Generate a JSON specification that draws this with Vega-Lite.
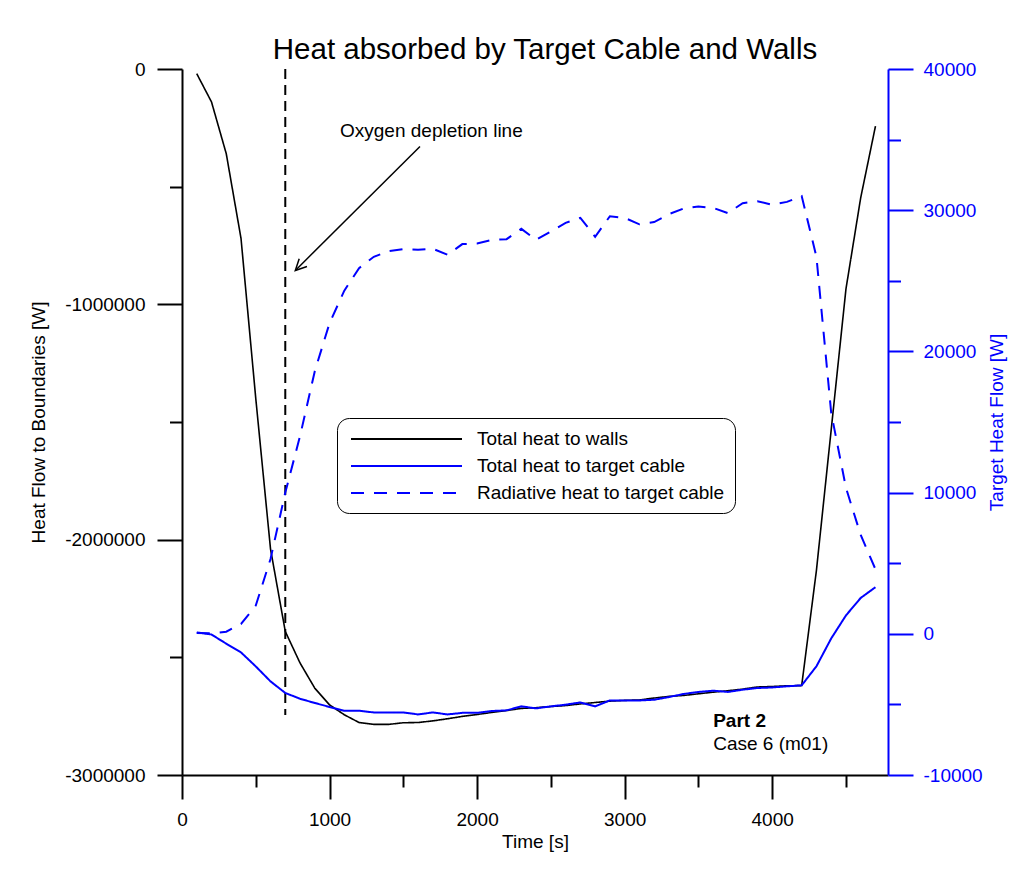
{
  "$schema": "https://vega.github.io/schema/vega-lite/v6.json",
  "width": 706,
  "height": 706,
  "autosize": {"type": "none"},
  "padding": {"left": 182, "top": 69, "right": 138, "bottom": 107},
  "background": "white",
  "title": {
    "text": "Heat absorbed by Target Cable and Walls",
    "fontSize": 29.5,
    "font": "Liberation Sans",
    "fontWeight": "normal",
    "color": "black",
    "anchor": "middle",
    "dx": 10,
    "dy": 30,
    "baseline": "alphabetic",
    "offset": 2
  },
  "config": {
    "view": {"stroke": null},
    "font": "Liberation Sans",
    "axis": {"grid": false, "labelFont": "Liberation Sans", "titleFont": "Liberation Sans"}
  },
  "datasets": {
    "flows": [
      {"time": 100, "series": "Total heat to walls", "flow": -20000},
      {"time": 200, "series": "Total heat to walls", "flow": -140000},
      {"time": 300, "series": "Total heat to walls", "flow": -360000},
      {"time": 400, "series": "Total heat to walls", "flow": -720000},
      {"time": 500, "series": "Total heat to walls", "flow": -1400000},
      {"time": 600, "series": "Total heat to walls", "flow": -2040000},
      {"time": 700, "series": "Total heat to walls", "flow": -2390000},
      {"time": 800, "series": "Total heat to walls", "flow": -2524000},
      {"time": 900, "series": "Total heat to walls", "flow": -2631000},
      {"time": 1000, "series": "Total heat to walls", "flow": -2702000},
      {"time": 1100, "series": "Total heat to walls", "flow": -2744000},
      {"time": 1200, "series": "Total heat to walls", "flow": -2777000},
      {"time": 1300, "series": "Total heat to walls", "flow": -2785000},
      {"time": 1400, "series": "Total heat to walls", "flow": -2785000},
      {"time": 1500, "series": "Total heat to walls", "flow": -2778000},
      {"time": 1600, "series": "Total heat to walls", "flow": -2777000},
      {"time": 1700, "series": "Total heat to walls", "flow": -2770000},
      {"time": 1800, "series": "Total heat to walls", "flow": -2761000},
      {"time": 1900, "series": "Total heat to walls", "flow": -2751000},
      {"time": 2000, "series": "Total heat to walls", "flow": -2743000},
      {"time": 2100, "series": "Total heat to walls", "flow": -2734000},
      {"time": 2200, "series": "Total heat to walls", "flow": -2726000},
      {"time": 2300, "series": "Total heat to walls", "flow": -2717000},
      {"time": 2400, "series": "Total heat to walls", "flow": -2714000},
      {"time": 2500, "series": "Total heat to walls", "flow": -2709000},
      {"time": 2600, "series": "Total heat to walls", "flow": -2705000},
      {"time": 2700, "series": "Total heat to walls", "flow": -2698000},
      {"time": 2800, "series": "Total heat to walls", "flow": -2692000},
      {"time": 2900, "series": "Total heat to walls", "flow": -2686000},
      {"time": 3000, "series": "Total heat to walls", "flow": -2683000},
      {"time": 3100, "series": "Total heat to walls", "flow": -2681000},
      {"time": 3200, "series": "Total heat to walls", "flow": -2673000},
      {"time": 3300, "series": "Total heat to walls", "flow": -2666000},
      {"time": 3400, "series": "Total heat to walls", "flow": -2662000},
      {"time": 3500, "series": "Total heat to walls", "flow": -2655000},
      {"time": 3600, "series": "Total heat to walls", "flow": -2648000},
      {"time": 3700, "series": "Total heat to walls", "flow": -2642000},
      {"time": 3800, "series": "Total heat to walls", "flow": -2635000},
      {"time": 3900, "series": "Total heat to walls", "flow": -2626000},
      {"time": 4000, "series": "Total heat to walls", "flow": -2624000},
      {"time": 4100, "series": "Total heat to walls", "flow": -2621000},
      {"time": 4200, "series": "Total heat to walls", "flow": -2620000},
      {"time": 4300, "series": "Total heat to walls", "flow": -2130000},
      {"time": 4400, "series": "Total heat to walls", "flow": -1533000},
      {"time": 4500, "series": "Total heat to walls", "flow": -935000},
      {"time": 4600, "series": "Total heat to walls", "flow": -547000},
      {"time": 4700, "series": "Total heat to walls", "flow": -243000},

      {"time": 100, "series": "Total heat to target cable", "flow": 100},
      {"time": 200, "series": "Total heat to target cable", "flow": -50},
      {"time": 300, "series": "Total heat to target cable", "flow": -700},
      {"time": 400, "series": "Total heat to target cable", "flow": -1320},
      {"time": 500, "series": "Total heat to target cable", "flow": -2310},
      {"time": 600, "series": "Total heat to target cable", "flow": -3370},
      {"time": 700, "series": "Total heat to target cable", "flow": -4190},
      {"time": 800, "series": "Total heat to target cable", "flow": -4600},
      {"time": 900, "series": "Total heat to target cable", "flow": -4900},
      {"time": 1000, "series": "Total heat to target cable", "flow": -5180},
      {"time": 1100, "series": "Total heat to target cable", "flow": -5450},
      {"time": 1200, "series": "Total heat to target cable", "flow": -5450},
      {"time": 1300, "series": "Total heat to target cable", "flow": -5570},
      {"time": 1400, "series": "Total heat to target cable", "flow": -5570},
      {"time": 1500, "series": "Total heat to target cable", "flow": -5570},
      {"time": 1600, "series": "Total heat to target cable", "flow": -5710},
      {"time": 1700, "series": "Total heat to target cable", "flow": -5570},
      {"time": 1800, "series": "Total heat to target cable", "flow": -5710},
      {"time": 1900, "series": "Total heat to target cable", "flow": -5600},
      {"time": 2000, "series": "Total heat to target cable", "flow": -5600},
      {"time": 2100, "series": "Total heat to target cable", "flow": -5470},
      {"time": 2200, "series": "Total heat to target cable", "flow": -5420},
      {"time": 2300, "series": "Total heat to target cable", "flow": -5140},
      {"time": 2400, "series": "Total heat to target cable", "flow": -5280},
      {"time": 2500, "series": "Total heat to target cable", "flow": -5140},
      {"time": 2600, "series": "Total heat to target cable", "flow": -5020},
      {"time": 2700, "series": "Total heat to target cable", "flow": -4860},
      {"time": 2800, "series": "Total heat to target cable", "flow": -5140},
      {"time": 2900, "series": "Total heat to target cable", "flow": -4720},
      {"time": 3000, "series": "Total heat to target cable", "flow": -4720},
      {"time": 3100, "series": "Total heat to target cable", "flow": -4720},
      {"time": 3200, "series": "Total heat to target cable", "flow": -4670},
      {"time": 3300, "series": "Total heat to target cable", "flow": -4480},
      {"time": 3400, "series": "Total heat to target cable", "flow": -4260},
      {"time": 3500, "series": "Total heat to target cable", "flow": -4120},
      {"time": 3600, "series": "Total heat to target cable", "flow": -4030},
      {"time": 3700, "series": "Total heat to target cable", "flow": -4120},
      {"time": 3800, "series": "Total heat to target cable", "flow": -3960},
      {"time": 3900, "series": "Total heat to target cable", "flow": -3840},
      {"time": 4000, "series": "Total heat to target cable", "flow": -3800},
      {"time": 4100, "series": "Total heat to target cable", "flow": -3720},
      {"time": 4200, "series": "Total heat to target cable", "flow": -3650},
      {"time": 4300, "series": "Total heat to target cable", "flow": -2300},
      {"time": 4400, "series": "Total heat to target cable", "flow": -330},
      {"time": 4500, "series": "Total heat to target cable", "flow": 1300},
      {"time": 4600, "series": "Total heat to target cable", "flow": 2540},
      {"time": 4700, "series": "Total heat to target cable", "flow": 3300},

      {"time": 100, "series": "Radiative heat to target cable", "flow": 50},
      {"time": 200, "series": "Radiative heat to target cable", "flow": 30},
      {"time": 300, "series": "Radiative heat to target cable", "flow": 150},
      {"time": 400, "series": "Radiative heat to target cable", "flow": 700},
      {"time": 500, "series": "Radiative heat to target cable", "flow": 2000},
      {"time": 600, "series": "Radiative heat to target cable", "flow": 5300},
      {"time": 700, "series": "Radiative heat to target cable", "flow": 10000},
      {"time": 800, "series": "Radiative heat to target cable", "flow": 14000},
      {"time": 900, "series": "Radiative heat to target cable", "flow": 18600},
      {"time": 1000, "series": "Radiative heat to target cable", "flow": 22000},
      {"time": 1100, "series": "Radiative heat to target cable", "flow": 24300},
      {"time": 1200, "series": "Radiative heat to target cable", "flow": 25900},
      {"time": 1300, "series": "Radiative heat to target cable", "flow": 26700},
      {"time": 1400, "series": "Radiative heat to target cable", "flow": 27100},
      {"time": 1500, "series": "Radiative heat to target cable", "flow": 27250},
      {"time": 1600, "series": "Radiative heat to target cable", "flow": 27200},
      {"time": 1700, "series": "Radiative heat to target cable", "flow": 27270},
      {"time": 1800, "series": "Radiative heat to target cable", "flow": 26840},
      {"time": 1900, "series": "Radiative heat to target cable", "flow": 27600},
      {"time": 2000, "series": "Radiative heat to target cable", "flow": 27640},
      {"time": 2100, "series": "Radiative heat to target cable", "flow": 27900},
      {"time": 2200, "series": "Radiative heat to target cable", "flow": 27950},
      {"time": 2300, "series": "Radiative heat to target cable", "flow": 28680},
      {"time": 2400, "series": "Radiative heat to target cable", "flow": 27900},
      {"time": 2500, "series": "Radiative heat to target cable", "flow": 28500},
      {"time": 2600, "series": "Radiative heat to target cable", "flow": 29100},
      {"time": 2700, "series": "Radiative heat to target cable", "flow": 29460},
      {"time": 2800, "series": "Radiative heat to target cable", "flow": 28120},
      {"time": 2900, "series": "Radiative heat to target cable", "flow": 29570},
      {"time": 3000, "series": "Radiative heat to target cable", "flow": 29460},
      {"time": 3100, "series": "Radiative heat to target cable", "flow": 29000},
      {"time": 3200, "series": "Radiative heat to target cable", "flow": 29160},
      {"time": 3300, "series": "Radiative heat to target cable", "flow": 29720},
      {"time": 3400, "series": "Radiative heat to target cable", "flow": 30120},
      {"time": 3500, "series": "Radiative heat to target cable", "flow": 30260},
      {"time": 3600, "series": "Radiative heat to target cable", "flow": 30170},
      {"time": 3700, "series": "Radiative heat to target cable", "flow": 29790},
      {"time": 3800, "series": "Radiative heat to target cable", "flow": 30500},
      {"time": 3900, "series": "Radiative heat to target cable", "flow": 30640},
      {"time": 4000, "series": "Radiative heat to target cable", "flow": 30380},
      {"time": 4100, "series": "Radiative heat to target cable", "flow": 30590},
      {"time": 4200, "series": "Radiative heat to target cable", "flow": 31000},
      {"time": 4300, "series": "Radiative heat to target cable", "flow": 26700},
      {"time": 4400, "series": "Radiative heat to target cable", "flow": 15650},
      {"time": 4500, "series": "Radiative heat to target cable", "flow": 10340},
      {"time": 4600, "series": "Radiative heat to target cable", "flow": 7000},
      {"time": 4700, "series": "Radiative heat to target cable", "flow": 4570}
    ]
  },
  "layer": [
    {
      "layer": [
        {
          "data": {"name": "flows"},
          "transform": [{"filter": "datum.series === 'Total heat to walls'"}],
          "mark": {"type": "line", "strokeWidth": 1.6},
          "encoding": {
            "x": {
              "field": "time", "type": "quantitative",
              "scale": {"domain": [0, 4785], "nice": false, "zero": false},
              "axis": {
                "title": "Time [s]",
                "values": [0, 500, 1000, 1500, 2000, 2500, 3000, 3500, 4000, 4500],
                "labelExpr": "datum.value % 1000 === 0 ? '' + datum.value : ''",
                "tickSize": {"condition": {"test": "datum.value % 1000 === 0", "value": 24}, "value": 12},
                "tickWidth": 2, "tickColor": "black",
                "domainWidth": 2, "domainColor": "black",
                "labelColor": "black", "labelFontSize": 19, "labelPadding": 11,
                "labelFlush": false, "labelOverlap": false,
                "titleColor": "black", "titleFontSize": 19, "titleFontWeight": "normal", "titlePadding": 3
              }
            },
            "y": {
              "field": "flow", "type": "quantitative",
              "scale": {"domain": [-3000000, 0], "nice": false, "zero": false},
              "axis": {
                "orient": "left",
                "title": "Heat Flow to Boundaries [W]",
                "values": [-3000000, -2500000, -2000000, -1500000, -1000000, -500000, 0],
                "labelExpr": "datum.value % 1000000 === 0 ? '' + datum.value : ''",
                "tickSize": {"condition": {"test": "datum.value % 1000000 === 0", "value": 25}, "value": 12.5},
                "tickWidth": 2, "tickColor": "black",
                "domainWidth": 2, "domainColor": "black",
                "labelColor": "black", "labelFontSize": 19, "labelPadding": 12,
                "labelFlush": false, "labelOverlap": false,
                "titleColor": "black", "titleFontSize": 19, "titleFontWeight": "normal", "titlePadding": 16
              }
            },
            "color": {
              "field": "series", "type": "nominal",
              "scale": {"domain": ["Total heat to walls", "Total heat to target cable", "Radiative heat to target cable"], "range": ["#000000", "#0000ff", "#0000ff"]},
              "legend": {
                "title": null, "orient": "none", "legendX": 155, "legendY": 349,
                "strokeColor": "black", "cornerRadius": 12, "padding": 10, "fillColor": "white",
                "labelFontSize": 19, "labelFont": "Liberation Sans", "labelColor": "black", "labelLimit": 400,
                "symbolType": "M-0.7,0H10.4", "symbolSize": 400, "symbolStrokeWidth": 2,
                "labelOffset": 108, "rowPadding": 6
              }
            },
            "strokeDash": {
              "field": "series", "type": "nominal",
              "scale": {"domain": ["Total heat to walls", "Total heat to target cable", "Radiative heat to target cable"], "range": [[1, 0], [1, 0], [13, 10]]},
              "legend": {
                "title": null, "orient": "none", "legendX": 155, "legendY": 349,
                "strokeColor": "black", "cornerRadius": 12, "padding": 10, "fillColor": "white",
                "labelFontSize": 19, "labelFont": "Liberation Sans", "labelColor": "black", "labelLimit": 400,
                "symbolType": "M-0.7,0H10.4", "symbolSize": 400, "symbolStrokeWidth": 2,
                "labelOffset": 108, "rowPadding": 6
              }
            }
          }
        },
        {
          "data": {"values": [{"time": 700, "top": 0, "bottom": -2745000}]},
          "mark": {"type": "rule", "color": "black", "strokeWidth": 2, "strokeDash": [10, 6]},
          "encoding": {
            "x": {"field": "time", "type": "quantitative", "scale": {"domain": [0, 4785], "nice": false, "zero": false}},
            "y": {"field": "top", "type": "quantitative", "scale": {"domain": [-3000000, 0], "nice": false, "zero": false}},
            "y2": {"field": "bottom"}
          }
        },
        {
          "data": {"values": [{"fromTime": 1613, "fromFlow": -329000, "toTime": 768, "toFlow": -856000}]},
          "mark": {"type": "rule", "color": "black", "strokeWidth": 1.5},
          "encoding": {
            "x": {"field": "fromTime", "type": "quantitative", "scale": {"domain": [0, 4785], "nice": false, "zero": false}},
            "y": {"field": "fromFlow", "type": "quantitative", "scale": {"domain": [-3000000, 0], "nice": false, "zero": false}},
            "x2": {"field": "toTime"},
            "y2": {"field": "toFlow"}
          }
        },
        {
          "data": {"values": [{"toTime": 768, "toFlow": -856000}]},
          "mark": {"type": "point", "shape": "M-1,-0.5L0,0L-1,0.5", "size": 484, "angle": 135, "filled": false, "stroke": "black", "strokeWidth": 1.5, "opacity": 1},
          "encoding": {
            "x": {"field": "toTime", "type": "quantitative", "scale": {"domain": [0, 4785], "nice": false, "zero": false}},
            "y": {"field": "toFlow", "type": "quantitative", "scale": {"domain": [-3000000, 0], "nice": false, "zero": false}}
          }
        },
        {
          "data": {"values": [
            {"time": 1071, "flow": -288000, "note": "Oxygen depletion line"},
            {"time": 3600, "flow": -2895000, "note": "Case 6 (m01)"}
          ]},
          "mark": {"type": "text", "align": "left", "baseline": "alphabetic", "fontSize": 19, "font": "Liberation Sans", "color": "black"},
          "encoding": {
            "x": {"field": "time", "type": "quantitative", "scale": {"domain": [0, 4785], "nice": false, "zero": false}},
            "y": {"field": "flow", "type": "quantitative", "scale": {"domain": [-3000000, 0], "nice": false, "zero": false}},
            "text": {"field": "note"}
          }
        },
        {
          "data": {"values": [{"time": 3600, "flow": -2796000, "note": "Part 2"}]},
          "mark": {"type": "text", "align": "left", "baseline": "alphabetic", "fontSize": 19, "fontWeight": "bold", "font": "Liberation Sans", "color": "black"},
          "encoding": {
            "x": {"field": "time", "type": "quantitative", "scale": {"domain": [0, 4785], "nice": false, "zero": false}},
            "y": {"field": "flow", "type": "quantitative", "scale": {"domain": [-3000000, 0], "nice": false, "zero": false}},
            "text": {"field": "note"}
          }
        }
      ]
    },
    {
      "layer": [
        {
          "data": {"name": "flows"},
          "transform": [{"filter": "datum.series !== 'Total heat to walls'"}],
          "mark": {"type": "line", "strokeWidth": 2},
          "encoding": {
            "x": {"field": "time", "type": "quantitative", "scale": {"domain": [0, 4785], "nice": false, "zero": false}},
            "y": {
              "field": "flow", "type": "quantitative",
              "scale": {"domain": [-10000, 40000], "nice": false, "zero": false},
              "axis": {
                "orient": "right",
                "title": "Target Heat Flow [W]",
                "values": [-10000, -5000, 0, 5000, 10000, 15000, 20000, 25000, 30000, 35000, 40000],
                "labelExpr": "datum.value % 10000 === 0 ? '' + datum.value : ''",
                "tickSize": {"condition": {"test": "datum.value % 10000 === 0", "value": 25}, "value": 12.5},
                "tickWidth": 2, "tickColor": "#0000ff",
                "domainWidth": 2, "domainColor": "#0000ff",
                "labelColor": "#0000ff", "labelFontSize": 19, "labelPadding": 10,
                "labelFlush": false, "labelOverlap": false,
                "titleColor": "#0000ff", "titleFontSize": 19, "titleFontWeight": "normal", "titlePadding": 5,
                "titleAngle": 270, "titleBaseline": "top"
              }
            },
            "color": {
              "field": "series", "type": "nominal",
              "scale": {"domain": ["Total heat to walls", "Total heat to target cable", "Radiative heat to target cable"], "range": ["#000000", "#0000ff", "#0000ff"]},
              "legend": {
                "title": null, "orient": "none", "legendX": 155, "legendY": 349,
                "strokeColor": "black", "cornerRadius": 12, "padding": 10, "fillColor": "white",
                "labelFontSize": 19, "labelFont": "Liberation Sans", "labelColor": "black", "labelLimit": 400,
                "symbolType": "M-0.7,0H10.4", "symbolSize": 400, "symbolStrokeWidth": 2,
                "labelOffset": 108, "rowPadding": 6
              }
            },
            "strokeDash": {
              "field": "series", "type": "nominal",
              "scale": {"domain": ["Total heat to walls", "Total heat to target cable", "Radiative heat to target cable"], "range": [[1, 0], [1, 0], [13, 10]]},
              "legend": {
                "title": null, "orient": "none", "legendX": 155, "legendY": 349,
                "strokeColor": "black", "cornerRadius": 12, "padding": 10, "fillColor": "white",
                "labelFontSize": 19, "labelFont": "Liberation Sans", "labelColor": "black", "labelLimit": 400,
                "symbolType": "M-0.7,0H10.4", "symbolSize": 400, "symbolStrokeWidth": 2,
                "labelOffset": 108, "rowPadding": 6
              }
            }
          }
        }
      ]
    }
  ],
  "resolve": {"scale": {"y": "independent"}}
}
